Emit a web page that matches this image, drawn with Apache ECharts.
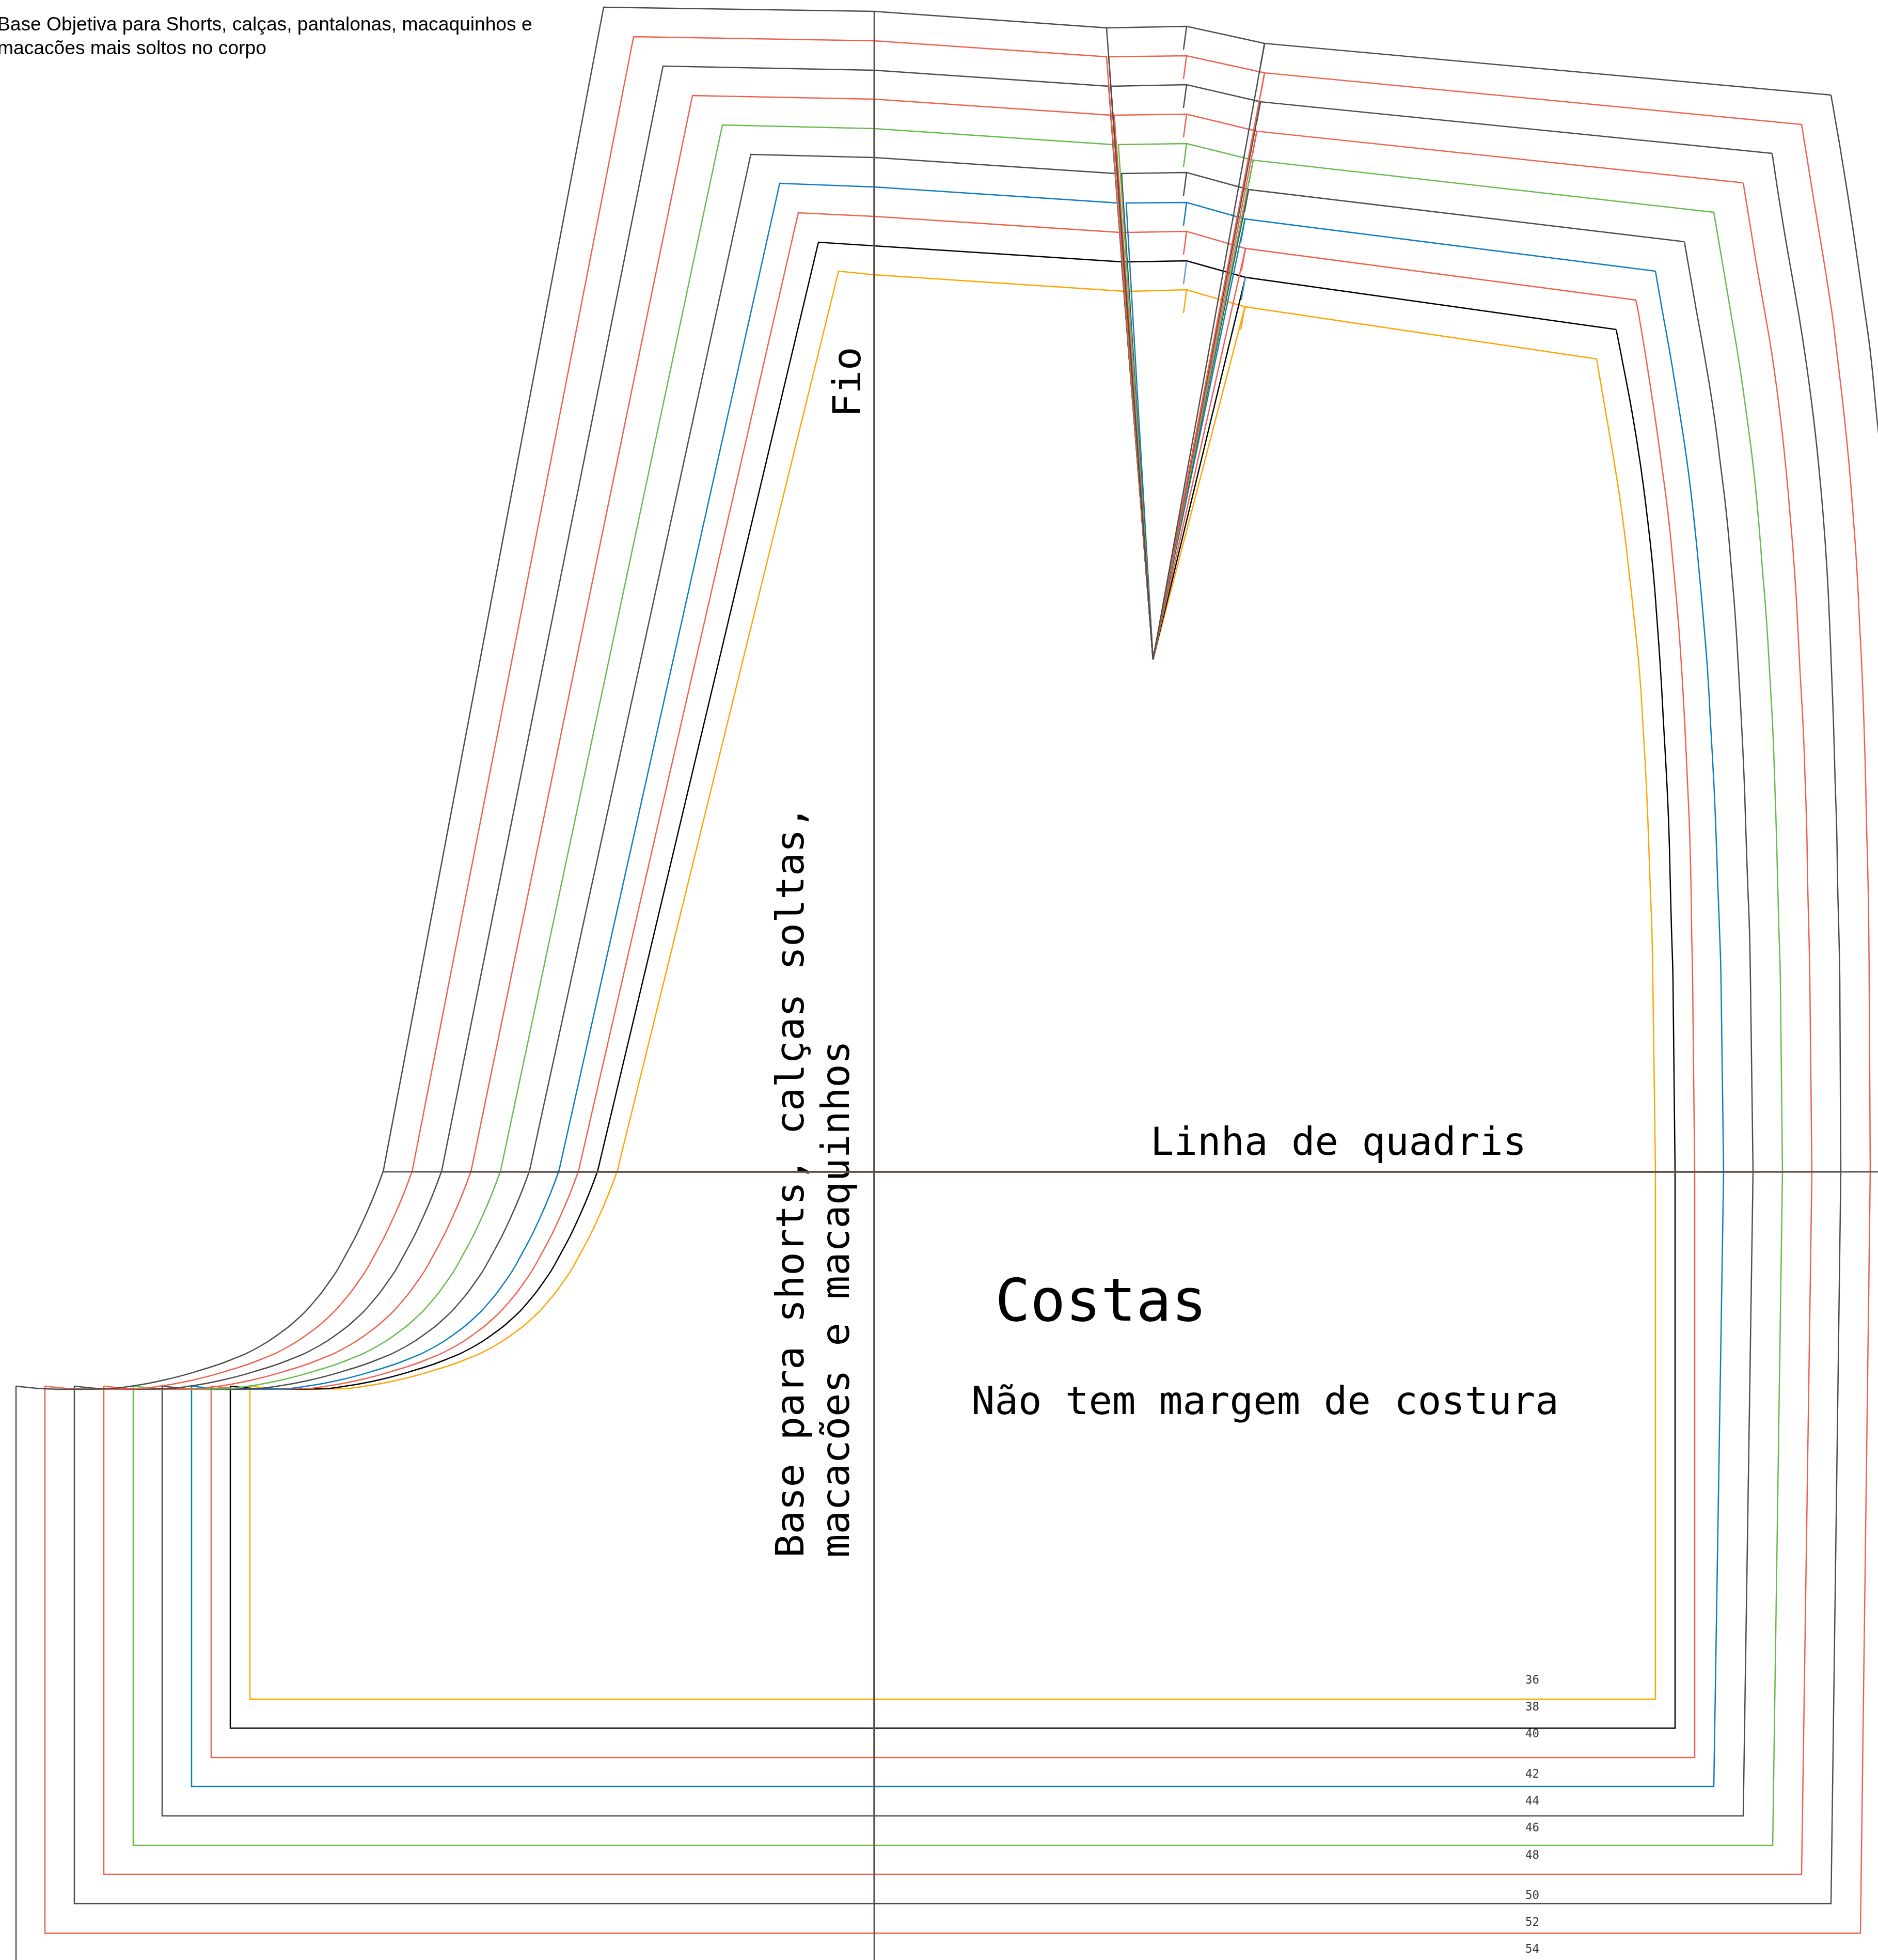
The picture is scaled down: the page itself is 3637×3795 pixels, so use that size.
<!DOCTYPE html>
<html><head><meta charset="utf-8">
<style>html,body{margin:0;padding:0;background:#fff}#c{width:3637px;height:3795px}</style>
<script src="https://cdn.jsdelivr.net/npm/echarts@6/dist/echarts.min.js"></script>
</head><body><div id="c"></div>
<script>
// order: sizes 36 ... 54, inner to outer
const sizeLabels = ['36','38','40','42','44','46','48','50','52','54'];
const labelX = [2954,2954,2954,2954,2954,2954,2954,2954,2954,2954];
const labelY = [3254,3306,3358,3436,3488,3540,3593,3671,3723,3775];
const lineColors  = ['#ffa500','#000000','#f0604c','#0a7cc4','#4d4d4d','#66bb4a','#f0604c','#4d4d4d','#f0604c','#4d4d4d'];
const notchColors = ['#ffa500','#5b9bd5','#f0604c','#0a7cc4','#4d4d4d','#66bb4a','#f0604c','#4d4d4d','#f0604c','#4d4d4d'];

const leftX     = [484,446,409,371,314,258,201,144,87,31];
const crotchEndY = 2684;
const hipY      = 2269;
const hipLeftX  = [1195,1157,1120,1082,1025,969,912,855,798,742];
const hipRightX = [3206,3244,3282,3338,3395,3452,3509,3565,3622,3679];
const bottomRX  = [3206,3244,3282,3319,3376,3433,3489,3546,3603,3660];
const bottomY   = [3290,3346,3403,3459,3516,3573,3629,3686,3743,3800];
const topLeftX  = [1624,1585,1546,1510,1454,1399,1341,1284,1227,1169];
const topLeftY  = [525,469,412,355,299,242,185,128,71,14];
const grainX    = 1693;
const grainTopY = [532,476,419,362,305,249,192,136,79,22];
const dartAX    = [2177,2172,2168,2164,2160,2155,2151,2147,2143,2143];
const dartBX    = [2192,2189,2186,2181,2172,2166,2158,2151,2147,2143];
const dartY     = [564,507,450,393,336,280,223,167,110,54];
const dartTip   = [2233,1277];
const peakX     = 2298;
const peakY     = [561,505,448,392,334,278,221,164,108,51];
const peakNotchX = 2292;
const peakNotchY = [606,550,493,437,379,323,266,209,153,96];
const dartEX    = [2411,2412,2412,2411,2418,2427,2434,2441,2449,2449];
const dartEY    = [594,537,481,424,367,310,254,197,141,84];
const edgeNotchX = [2403,2404,2404,2403,2410,2419,2426,2433,2441,2441];
const edgeNotchY = [638,581,525,468,411,354,298,241,185,128];

const seatY  = [2268,2353,2440,2483,2523,2553,2580,2607,2633,2650,2672,2686,2689,2690,2689,2687,2684];
const seat36 = [1195,1161,1117,1090,1059,1030,997,956,900,851,771,693,658,580,540,513,484];
const seat38 = [1157,1123,1079,1052,1021,992,959,918,862,813,733,655,620,542,502,475,446];
const seat40 = [1120,1086,1042,1015,984,955,922,881,825,776,696,618,583,505,465,438,409];
const seat42 = [1082,1048,1004,977,946,917,884,843,787,738,658,580,545,467,427,400,371];
const seat44 = [1025,991,947,920,889,860,827,786,730,681,601,523,488,410,370,343,314];
const seat46 = [969,935,891,864,833,804,771,730,674,625,545,467,432,354,314,287,258];
const seat48 = [912,878,834,807,776,747,714,673,617,568,488,410,375,297,257,230,201];
const seat50 = [855,821,777,750,719,690,657,616,560,511,431,353,318,240,200,173,144];
const seat52 = [798,764,720,693,662,633,600,559,503,454,374,296,261,183,143,116,87];
const seat54 = [742,708,664,637,606,577,544,503,447,398,318,240,205,127,87,60,31];

const upper36 = [[3092,695]];
const upper38 = [[3130,638],[3140,689]];
const upper40 = [[3168,581],[3172,600],[3187,689]];
const upper42 = [[3206,525],[3219,600],[3235,689]];
const upper44 = [[3262,468],[3285,600],[3301,689]];
const upper46 = [[3319,411],[3342,546],[3351,600],[3366,689]];
const upper48 = [[3376,354],[3400,502],[3417,600],[3432,689]];
const upper50 = [[3432,297],[3454,439],[3482,600],[3496,689]];
const upper52 = [[3489,241],[3511,377],[3547,600],[3558,689]];
const upper54 = [[3546,184],[3577,368],[3611,600],[3623,689]];

const sideY  = [800,900,1000,1100,1200,1300,1407,1514,1606,1721,1797,1900,2269];
const side36 = [3110,3127,3142,3154,3165,3175,3182,3188,3192,3196,3199,3201,3206];
const side38 = [3161,3177,3190,3201,3209,3216,3222,3228,3232,3235,3237,3240,3244];
const side40 = [3204,3218,3231,3241,3250,3257,3263,3268,3272,3275,3276,3278,3282];
const side42 = [3253,3268,3280,3290,3299,3307,3313,3319,3323,3327,3330,3333,3338];
const side44 = [3319,3332,3344,3353,3361,3367,3373,3378,3381,3385,3388,3390,3395];
const side46 = [3382,3395,3405,3413,3421,3427,3433,3437,3440,3443,3445,3448,3452];
const side48 = [3447,3458,3467,3475,3481,3486,3492,3496,3499,3501,3503,3505,3509];
const side50 = [3511,3522,3531,3538,3543,3547,3551,3554,3557,3559,3561,3563,3565];
const side52 = [3571,3581,3589,3596,3601,3606,3610,3613,3615,3618,3619,3620,3622];
const side54 = [3634,3644,3653,3659,3662,3664,3669,3672,3674,3676,3677,3678,3679];

const seats  = [seat36,seat38,seat40,seat42,seat44,seat46,seat48,seat50,seat52,seat54];
const uppers = [upper36,upper38,upper40,upper42,upper44,upper46,upper48,upper50,upper52,upper54];
const sides  = [side36,side38,side40,side42,side44,side46,side48,side50,side52,side54];

const titleLines = ['Base Objetiva para Shorts, calças, pantalonas, macaquinhos e','macacões mais soltos no corpo'];
const verticalLines = ['Base para shorts, calças soltas,','macacões e macaquinhos'];
const LW = 2.5;

const series = [];
function path(name, color, data, smooth) {
  series.push({
    type:'line', name, data, showSymbol:false, symbol:'none', silent:true, animation:false,
    smooth: smooth ? 0.5 : false,
    lineStyle:{color, width:LW, join:'miter', cap:'butt'}, clip:true
  });
}
sizeLabels.forEach((s,i)=>{
  const c = lineColors[i], n = 'tam '+s;
  // grain line and hip line
  path(n+' fio', c, [[grainX,grainTopY[i]],[grainX,bottomY[i]]]);
  path(n+' quadril', c, [[hipLeftX[i],hipY],[hipRightX[i],hipY]]);
  // hem + inner leg
  path(n+' barra', c, [[hipRightX[i],hipY],[bottomRX[i],bottomY[i]],[leftX[i],bottomY[i]],[leftX[i],crotchEndY]]);
  // seat curve
  path(n+' gancho', c, seatY.map((y,k)=>[seats[i][k],y]), true);
  // straight centre + waist with darts
  const corner = uppers[i][0];
  const waist = [[hipLeftX[i],hipY],[topLeftX[i],topLeftY[i]],[grainX,grainTopY[i]],[dartAX[i],dartY[i]],dartTip];
  if (i<3) waist.push([dartAX[i],dartY[i]]);
  waist.push([dartBX[i],dartY[i]],[peakX,peakY[i]],[dartEX[i],dartEY[i]],dartTip,[dartEX[i],dartEY[i]],corner);
  path(n+' cintura', c, waist);
  // side curve
  path(n+' lateral', c, uppers[i].concat(sideY.map((y,k)=>[sides[i][k],y])), true);
  // notches
  path(n+' pique', notchColors[i], [[peakX,peakY[i]],[peakNotchX,peakNotchY[i]]]);
  path(n+' pique2', notchColors[i], [[dartEX[i],dartEY[i]],[edgeNotchX[i],edgeNotchY[i]]]);
});
// size labels
series.push({
  type:'scatter', symbolSize:0, silent:true, animation:false,
  data: sizeLabels.map((s,i)=>({value:[labelX[i],labelY[i]],name:s})),
  label:{show:true, position:'inside', align:'left', verticalAlign:'middle', formatter:p=>p.name,
         fontFamily:'DejaVu Sans Mono', fontSize:22.5, color:'#000'}
});

const mono = 'DejaVu Sans Mono';
function txt(text,x,y,size,family,rot){
  return {type:'text', x, y, rotation:rot||0, silent:true,
    style:{text, fontFamily:family, fontSize:size, fill:'#000', textAlign:'left', textVerticalAlign:'middle'}};
}
const graphic = [
  txt(titleLines[0],-5,49,37.2,'Liberation Sans'),
  txt(titleLines[1],-5,95,37.2,'Liberation Sans'),
  txt('Linha de quadris',2228,2216,75.6,mono),
  txt('Costas',1927,2528,113.5,mono),
  txt('Não tem margem de costura',1881,2718,75.6,mono),
  txt(verticalLines[0],1536,3016,75.6,mono,Math.PI/2),
  txt(verticalLines[1],1624,3016,75.6,mono,Math.PI/2),
  txt('Fio',1646,808,75.6,mono,Math.PI/2)
];

const chart = echarts.init(document.getElementById('c'),null,{renderer:'canvas',width:3637,height:3795});
chart.setOption({
  animation:false, backgroundColor:'#fff',
  grid:{left:0,right:0,top:0,bottom:0},
  xAxis:{type:'value',min:0,max:3637,show:false},
  yAxis:{type:'value',min:0,max:3795,inverse:true,show:false},
  series, graphic
});
</script></body></html>
